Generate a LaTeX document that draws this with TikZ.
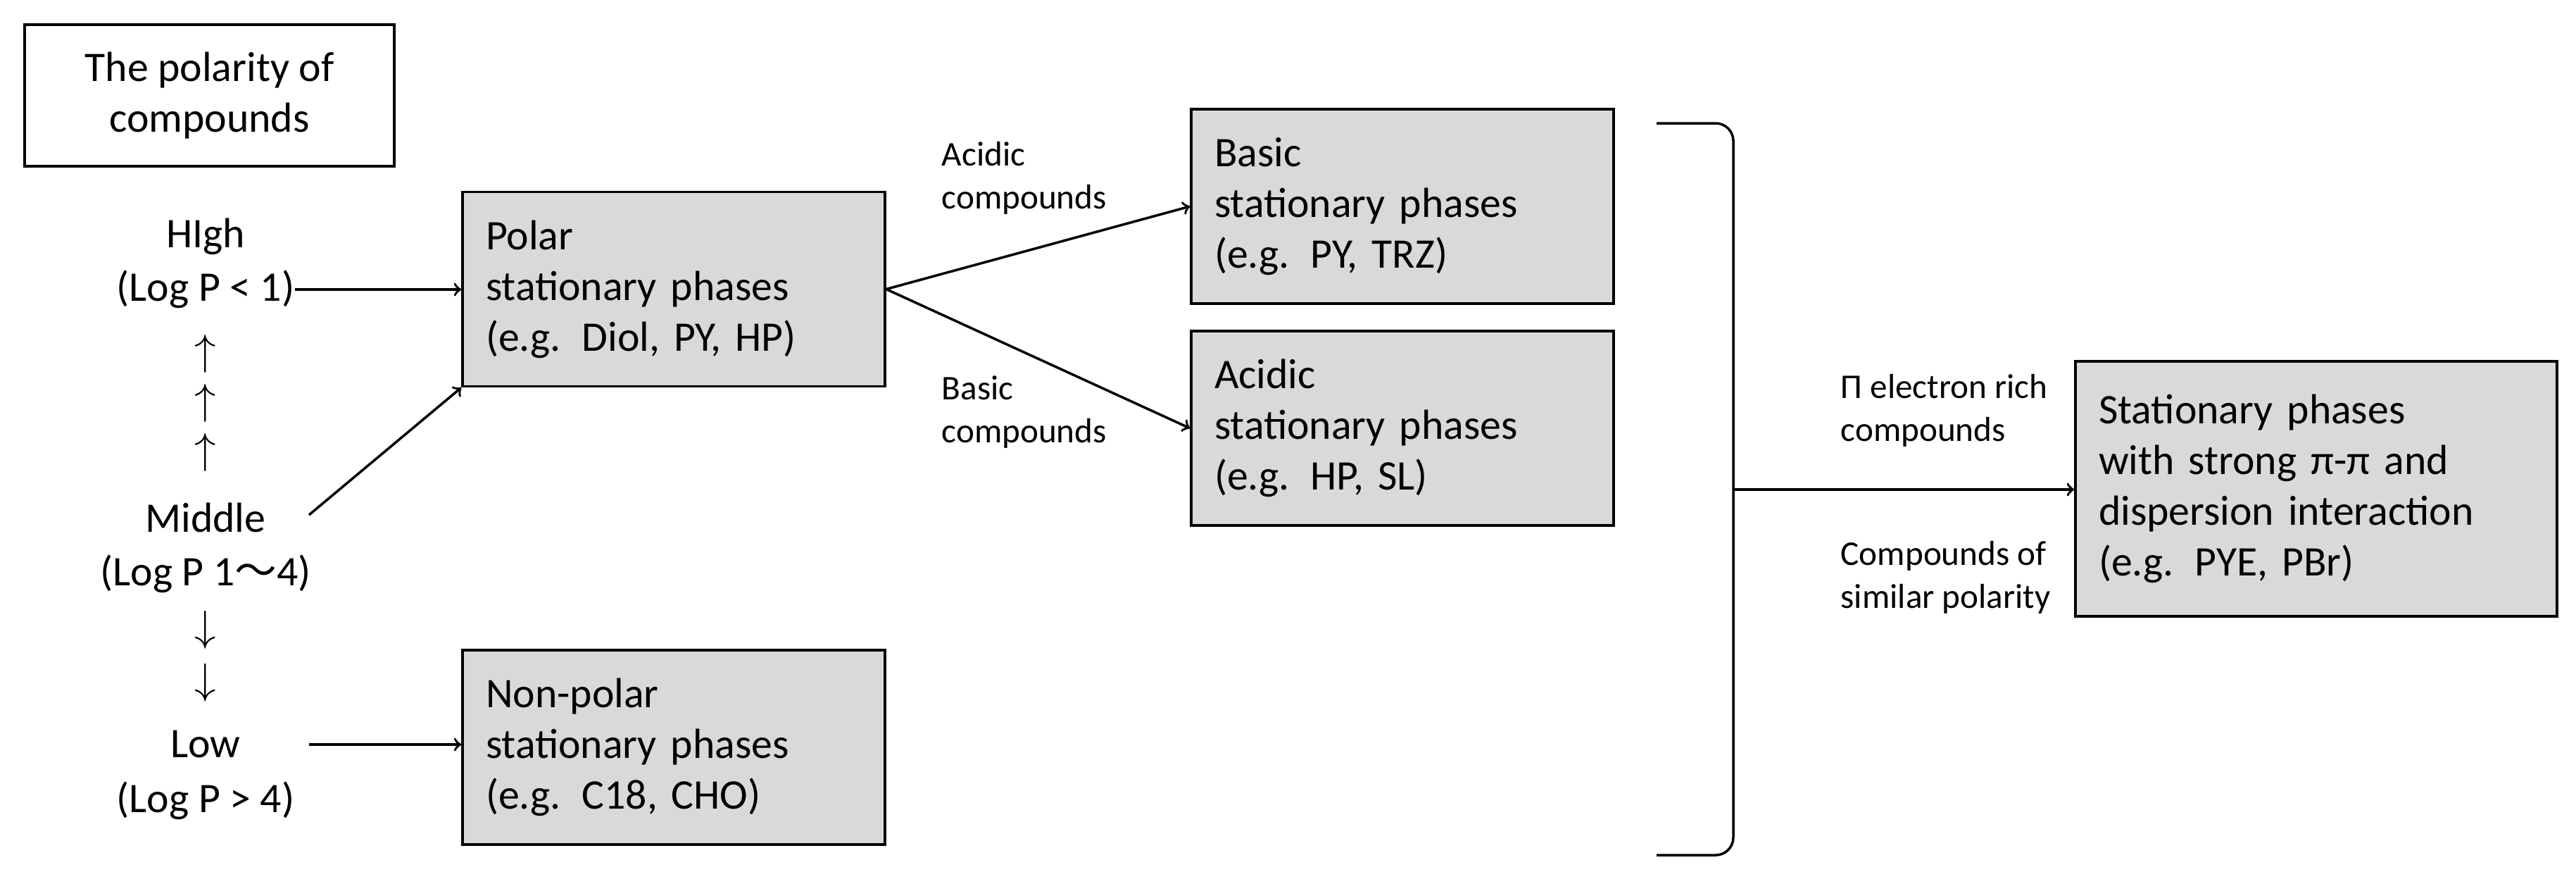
\documentclass[tikz,border=0pt]{standalone}
\usepackage{fontspec}
\setmainfont{Carlito}
\newfontfamily\cjkfont{Noto Sans CJK JP}
\usetikzlibrary{positioning,calc}
\definecolor{boxgray}{HTML}{D9D9D9}
\tikzset{
  phase/.style={draw,fill=boxgray,line width=1pt,align=left,inner xsep=0.33cm,
    minimum height=2.76cm,text width=5.34cm,font=\fontsize{17}{20.5}\selectfont},
  level/.style={inner sep=0pt,font=\fontsize{17}{20.5}\selectfont},
  cond/.style={anchor=west,align=left,inner sep=0pt,font=\fontsize{14}{17.5}\selectfont},
  link/.style={->,line width=1pt}
}
\begin{document}
\begin{tikzpicture}
  \useasboundingbox (0,0) rectangle (36.59,-12.37);
  \node[draw,line width=1pt,minimum width=5.25cm,minimum height=2.01cm,align=center,
    font=\fontsize{17}{20.5}\selectfont] (title) at (2.975,-1.355) {The polarity of\\compounds};

  \node[level] (high) at (2.92,-3.36) {HIgh};
  \node[level] (lp1) at (2.92,-4.11) {(Log P < 1)};
  \node[level] (up1) at (2.92,-5.02) {$\uparrow$};
  \node[level] (up2) at (2.92,-5.72) {$\uparrow$};
  \node[level] (up3) at (2.92,-6.42) {$\uparrow$};
  \node[level] (mid) at (2.92,-7.35) {Middle};
  \node[level] (lp2) at (2.92,-8.15) {(Log P 1{\cjkfont 〜}4)};
  \node[level] (dn1) at (2.92,-8.94) {$\downarrow$};
  \node[level] (dn2) at (2.92,-9.69) {$\downarrow$};
  \node[level] (low) at (2.92,-10.57) {Low};
  \node[level] (lp3) at (2.92,-11.37) {(Log P > 4)};

  \node[phase] (polar) at (9.57,-4.105) {Polar\\stationary phases\\(e.g. Diol, PY, HP)};
  \node[phase] (nonpolar) at (9.57,-10.61) {Non-polar\\stationary phases\\(e.g. C18, CHO)};
  \node[phase] (basic) at (19.92,-2.93) {Basic\\stationary phases\\(e.g. PY, TRZ)};
  \node[phase] (acidic) at (19.92,-6.08) {Acidic\\stationary phases\\(e.g. HP, SL)};
  \node[phase,text width=6.18cm,minimum height=3.62cm] (strong) at (32.9,-6.94)
    {Stationary phases\\with strong π-π and\\dispersion interaction\\(e.g. PYE, PBr)};

  \coordinate (midend) at (4.39,-7.31);
  \coordinate (lowend) at (4.39,-10.57);
  \draw[link] (lp1) -- (polar.west |- lp1);
  \draw[link] (midend) -- (polar.south west);
  \draw[link] (lowend) -- (nonpolar.west |- lowend);
  \draw[link] (polar.east) -- (basic.west);
  \draw[link] (polar.east) -- (acidic.west);

  \node[cond] (acidlbl) at (13.37,-2.53) {Acidic\\compounds};
  \node[cond] (baselbl) at (13.37,-5.85) {Basic\\compounds};
  \node[cond] (pilbl) at (26.14,-5.83) {Π electron rich\\compounds};
  \node[cond] (simlbl) at (26.14,-8.2) {Compounds of\\similar polarity};

  % bracket
  \coordinate (btop) at (23.53,-1.75);
  \coordinate (bbot) at (23.53,-12.14);
  \coordinate (bmid) at (24.62,-6.95);
  \draw[line width=1pt,rounded corners=0.25cm] (btop) -- (24.62,-1.75) -- (24.62,-12.14) -- (bbot);
  \draw[link] (bmid) -- (strong.west |- bmid);
\end{tikzpicture}
\end{document}
